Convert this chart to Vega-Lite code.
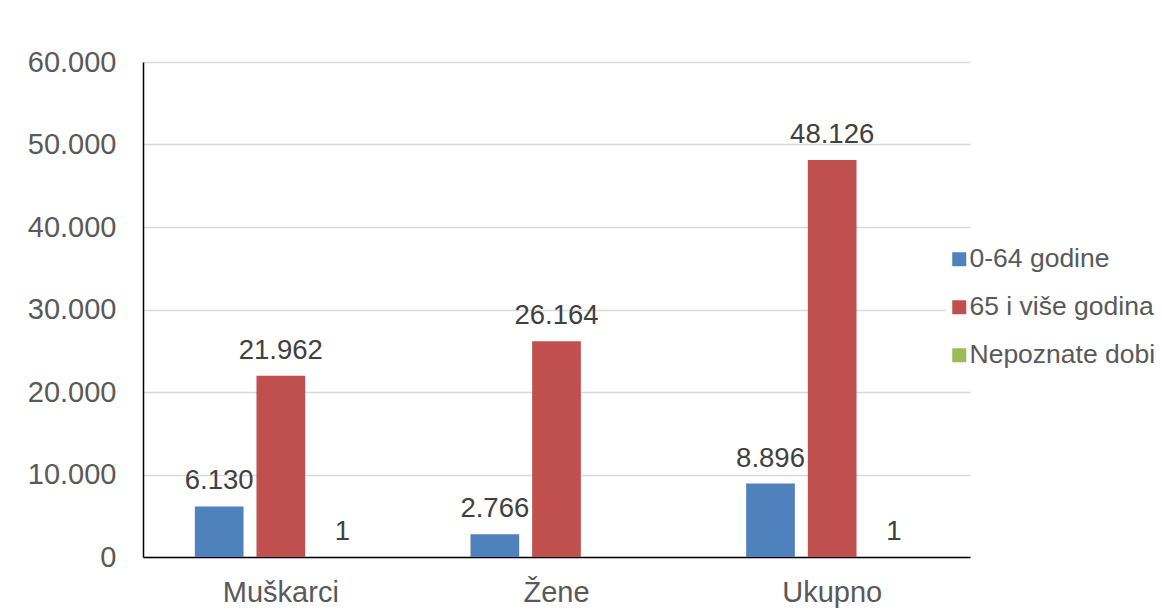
{
  "$schema": "https://vega.github.io/schema/vega-lite/v6.json",
  "autosize": "none",
  "width": 827,
  "height": 495,
  "padding": {"left": 143, "top": 62, "right": 192, "bottom": 57},
  "background": "white",
  "config": {
    "locale": {"number": {"decimal": ",", "thousands": ".", "grouping": [3], "currency": ["", ""]}},
    "view": {"stroke": null},
    "font": "Liberation Sans"
  },
  "data": {
    "values": [
      {"spol": "Muškarci", "dob": "0-64 godine", "broj": 6130},
      {"spol": "Muškarci", "dob": "65 i više godina", "broj": 21962},
      {"spol": "Muškarci", "dob": "Nepoznate dobi", "broj": 1},
      {"spol": "Žene", "dob": "0-64 godine", "broj": 2766},
      {"spol": "Žene", "dob": "65 i više godina", "broj": 26164},
      {"spol": "Ukupno", "dob": "0-64 godine", "broj": 8896},
      {"spol": "Ukupno", "dob": "65 i više godina", "broj": 48126},
      {"spol": "Ukupno", "dob": "Nepoznate dobi", "broj": 1}
    ]
  },
  "encoding": {
    "x": {
      "field": "spol", "type": "nominal", "sort": ["Muškarci", "Žene", "Ukupno"],
      "scale": {"paddingInner": 0.376, "paddingOuter": 0.188},
      "axis": {
        "title": null, "labelAngle": 0, "ticks": false, "domainColor": "#000000", "domainWidth": 1.5,
        "labelFontSize": 29, "labelColor": "#595959", "labelFont": "Liberation Sans",
        "labelBaseline": "alphabetic", "labelPadding": 44
      }
    },
    "xOffset": {
      "field": "dob", "type": "nominal",
      "sort": ["0-64 godine", "65 i više godina", "Nepoznate dobi"],
      "scale": {"paddingInner": 0.21, "paddingOuter": 0}
    },
    "y": {
      "field": "broj", "type": "quantitative",
      "scale": {"domain": [0, 60000], "nice": false},
      "axis": {
        "title": null, "values": [0, 10000, 20000, 30000, 40000, 50000, 60000], "format": ",d",
        "ticks": false, "domainColor": "#000000", "domainWidth": 1.5,
        "gridColor": "#d9d9d9", "gridWidth": 1.5,
        "labelFontSize": 29, "labelColor": "#595959", "labelFont": "Liberation Sans",
        "labelPadding": 27
      }
    }
  },
  "layer": [
    {
      "mark": {"type": "bar"},
      "encoding": {
        "color": {
          "field": "dob", "type": "nominal",
          "sort": ["0-64 godine", "65 i više godina", "Nepoznate dobi"],
          "scale": {"domain": ["0-64 godine", "65 i više godina", "Nepoznate dobi"], "range": ["#4F81BD", "#C0504D", "#9BBB59"]},
          "legend": {
            "title": null, "orient": "none", "legendX": 803, "legendY": 184,
            "symbolType": "square", "symbolSize": 196, "symbolStrokeWidth": 0,
            "labelFontSize": 26.5, "labelColor": "#595959", "labelFont": "Liberation Sans",
            "labelOffset": -3, "rowPadding": 21, "padding": 0, "fillColor": "white",
            "labelLimit": 400
          }
        }
      }
    },
    {
      "mark": {"type": "text", "baseline": "alphabetic", "dy": -17, "fontSize": 27.5, "color": "#404040", "font": "Liberation Sans"},
      "encoding": {
        "text": {"field": "broj", "type": "quantitative", "format": ",d"}
      }
    }
  ]
}
